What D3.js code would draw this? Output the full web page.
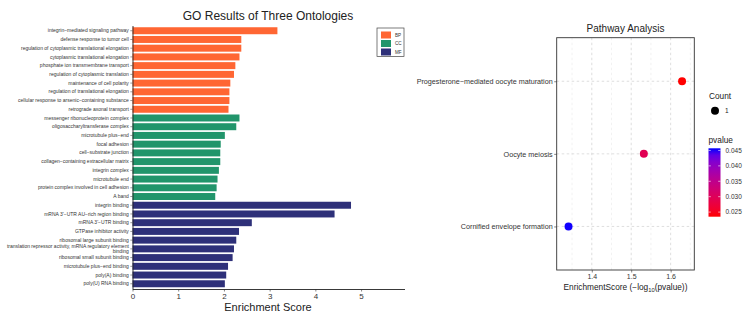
<!DOCTYPE html>
<html>
<head>
<meta charset="utf-8">
<script src="https://cdn.jsdelivr.net/npm/d3@7"></script>
<style>
  body { margin: 0; background: #fff; }
  svg { font-family: "Liberation Sans", Arial, sans-serif; display: block; }
</style>
</head>
<body>
<svg id="chart" width="749" height="315"></svg>
<script>
// ---- GO enrichment data (top to bottom) ----
const goTerms = [
  "integrin−mediated signaling pathway",
  "defense response to tumor cell",
  "regulation of cytoplasmic translational elongation",
  "cytoplasmic translational elongation",
  "phosphate ion transmembrane transport",
  "regulation of cytoplasmic translation",
  "maintenance of cell polarity",
  "regulation of translational elongation",
  "cellular response to arsenic−containing substance",
  "retrograde axonal transport",
  "messenger ribonucleoprotein complex",
  "oligosaccharyltransferase complex",
  "microtubule plus−end",
  "focal adhesion",
  "cell−substrate junction",
  "collagen−containing extracellular matrix",
  "integrin complex",
  "microtubule end",
  "protein complex involved in cell adhesion",
  "A band",
  "integrin binding",
  "mRNA 3'−UTR AU−rich region binding",
  "mRNA 3'−UTR binding",
  "GTPase inhibitor activity",
  "ribosomal large subunit binding",
  "translation repressor activity, mRNA regulatory element binding",
  "ribosomal small subunit binding",
  "microtubule plus−end binding",
  "poly(A) binding",
  "poly(U) RNA binding"
];
const goScores = [
  3.17, 2.38, 2.38, 2.34, 2.25, 2.22, 2.14, 2.12, 2.12, 2.10,
  2.34, 2.27, 2.02, 1.93, 1.92, 1.92, 1.89, 1.86, 1.84, 1.81,
  4.78, 4.42, 2.61, 2.33, 2.27, 2.22, 2.19, 2.09, 2.05, 2.02
];
const goOntology = [
  "BP","BP","BP","BP","BP","BP","BP","BP","BP","BP",
  "CC","CC","CC","CC","CC","CC","CC","CC","CC","CC",
  "MF","MF","MF","MF","MF","MF","MF","MF","MF","MF"
];
const ontologyNames = ["BP", "CC", "MF"];
const ontologyColors = ["#ff6633", "#21956b", "#2e3079"];
const goTicks = [0, 1, 2, 3, 4, 5];

// ---- KEGG pathway data ----
const pathways = [
  "Progesterone−mediated oocyte maturation",
  "Oocyte meiosis",
  "Cornified envelope formation"
];
const pathwayScores = [1.629, 1.532, 1.341];
const pathwayPvalues = [0.0235, 0.0294, 0.0456];
const pathwayCounts = [1, 1, 1];
const pathwayTicks = [1.4, 1.5, 1.6];
const pvalueTicks = [0.025, 0.030, 0.035, 0.040, 0.045];

const svg = d3.select("#chart");

// =========================
// Left: GO bar chart
// =========================
const x = d3.scaleLinear().domain([0, 5.95]).range([132.5, 404.5]);
const y = d3.scaleBand().domain(goTerms).range([25.5, 289]).padding(0.2);
const colorOnt = d3.scaleOrdinal().domain(ontologyNames).range(ontologyColors);

const bars = svg.append("g");
bars.selectAll("rect")
  .data(goTerms)
  .enter()
  .append("rect")
  .attr("x", x(0))
  .attr("y", d => y(d))
  .attr("width", (d, i) => x(goScores[i]) - x(0))
  .attr("height", y.bandwidth())
  .attr("fill", (d, i) => colorOnt(goOntology[i]));

// y axis
const yAxis = svg.append("g")
  .attr("transform", `translate(${x(0)},0)`)
  .call(d3.axisLeft(y).tickSize(2.2).tickPadding(1.5).tickSizeOuter(0));
yAxis.select(".domain").attr("stroke", "#222").attr("stroke-width", 0.9);
yAxis.selectAll(".tick line").attr("stroke", "#333").attr("stroke-width", 0.5);
yAxis.selectAll(".tick text")
  .attr("fill", "#333")
  .style("font-size", "5px")
  .each(function (d) {
    // wrap long labels the way str_wrap would
    const words = d.split(" ");
    const lines = [];
    let cur = "";
    words.forEach(w => {
      if ((cur + " " + w).trim().length > 56) { lines.push(cur); cur = w; }
      else cur = (cur + " " + w).trim();
    });
    lines.push(cur);
    if (lines.length > 1) {
      const t = d3.select(this).text(null).attr("dy", null);
      const lh = 5.6;
      lines.forEach((l, k) => {
        t.append("tspan")
          .attr("x", t.attr("x"))
          .attr("y", (k - (lines.length - 1) / 2) * lh)
          .attr("dy", "0.32em")
          .text(l);
      });
    }
  });

// x axis
const xAxis = svg.append("g")
  .attr("transform", "translate(0,289)")
  .call(d3.axisBottom(x).tickValues(goTicks).tickFormat(d3.format("d")).tickSize(2.5).tickPadding(1.5).tickSizeOuter(0));
xAxis.select(".domain").attr("stroke", "#222").attr("stroke-width", 0.9);
xAxis.selectAll(".tick line").attr("stroke", "#333").attr("stroke-width", 0.6);
xAxis.selectAll(".tick text").attr("fill", "#333").style("font-size", "8px");

svg.append("text")
  .attr("x", 268).attr("y", 311)
  .attr("text-anchor", "middle")
  .style("font-size", "11px")
  .attr("fill", "#222")
  .text("Enrichment Score");

svg.append("text")
  .attr("x", 268).attr("y", 20)
  .attr("text-anchor", "middle")
  .style("font-size", "12px")
  .attr("fill", "#222")
  .text("GO Results of Three Ontologies");

// legend
const leg = svg.append("g").attr("transform", "translate(377,28)");
leg.append("rect")
  .attr("width", 27).attr("height", 28.5)
  .attr("fill", "#fff").attr("stroke", "#444").attr("stroke-width", 0.7);
const legItem = leg.selectAll("g.item")
  .data(ontologyNames)
  .enter()
  .append("g")
  .attr("class", "item")
  .attr("transform", (d, i) => `translate(4,${3.5 + i * 8.5})`);
legItem.append("rect")
  .attr("width", 10).attr("height", 7)
  .attr("fill", d => colorOnt(d));
legItem.append("text")
  .attr("x", 14).attr("y", 3.6)
  .attr("dy", "0.35em")
  .style("font-size", "4.6px")
  .attr("fill", "#333")
  .text(d => d);

// =========================
// Right: pathway bubble chart
// =========================
const px0 = 556.7, px1 = 694.3, py0 = 37.7, py1 = 270;
const xr = d3.scaleLinear().domain([1.311, 1.66]).range([px0, px1]);
const yr = d3.scalePoint().domain(pathways).range([py0, py1]).padding(0.6);
const pMin = 0.0235, pMax = 0.0457;
const colorP = d3.scaleLinear().domain([pMin, pMax]).range(["#ff0000", "#0000ff"]).interpolate(d3.interpolateLab);

const grid = svg.append("g");
grid.selectAll("line.minor")
  .data([1.35, 1.45, 1.55, 1.65])
  .enter()
  .append("line")
  .attr("x1", d => xr(d)).attr("x2", d => xr(d))
  .attr("y1", py0).attr("y2", py1)
  .attr("stroke", "#e4e4e4").attr("stroke-width", 0.5)
  .attr("stroke-dasharray", "2.5,2.5");
grid.selectAll("line.vmajor")
  .data(pathwayTicks)
  .enter()
  .append("line")
  .attr("x1", d => xr(d)).attr("x2", d => xr(d))
  .attr("y1", py0).attr("y2", py1)
  .attr("stroke", "#c8c8c8").attr("stroke-width", 0.6)
  .attr("stroke-dasharray", "2.5,2.5");
grid.selectAll("line.hmajor")
  .data(pathways)
  .enter()
  .append("line")
  .attr("x1", px0).attr("x2", px1)
  .attr("y1", d => yr(d)).attr("y2", d => yr(d))
  .attr("stroke", "#c8c8c8").attr("stroke-width", 0.6)
  .attr("stroke-dasharray", "2.5,2.5");

svg.append("g").selectAll("circle")
  .data(pathways)
  .enter()
  .append("circle")
  .attr("cx", (d, i) => xr(pathwayScores[i]))
  .attr("cy", d => yr(d))
  .attr("r", (d, i) => 4 * Math.sqrt(pathwayCounts[i]))
  .attr("fill", (d, i) => colorP(pathwayPvalues[i]));

svg.append("rect")
  .attr("x", px0).attr("y", py0)
  .attr("width", px1 - px0).attr("height", py1 - py0)
  .attr("fill", "none").attr("stroke", "#333").attr("stroke-width", 0.9);

const yrAxis = svg.append("g")
  .attr("transform", `translate(${px0},0)`)
  .call(d3.axisLeft(yr).tickSize(2.5).tickPadding(1.5));
yrAxis.select(".domain").remove();
yrAxis.selectAll(".tick line").attr("stroke", "#333").attr("stroke-width", 0.6);
yrAxis.selectAll(".tick text").attr("fill", "#333").style("font-size", "7.2px");

const xrAxis = svg.append("g")
  .attr("transform", `translate(0,${py1})`)
  .call(d3.axisBottom(xr).tickValues(pathwayTicks).tickFormat(d3.format(".1f")).tickSize(2.5).tickPadding(1.5));
xrAxis.select(".domain").remove();
xrAxis.selectAll(".tick line").attr("stroke", "#333").attr("stroke-width", 0.6);
xrAxis.selectAll(".tick text").attr("fill", "#333").style("font-size", "7px");

svg.append("text")
  .attr("x", (px0 + px1) / 2).attr("y", 32)
  .attr("text-anchor", "middle")
  .style("font-size", "10px")
  .attr("fill", "#222")
  .text("Pathway Analysis");

const xrTitle = svg.append("text")
  .attr("x", (px0 + px1) / 2).attr("y", 290)
  .attr("text-anchor", "middle")
  .style("font-size", "8.3px")
  .attr("fill", "#222");
xrTitle.append("tspan").text("EnrichmentScore (−log");
xrTitle.append("tspan").attr("dy", 1.8).style("font-size", "5.8px").text("10");
xrTitle.append("tspan").attr("dy", -1.8).text("(pvalue))");

// Count legend
svg.append("text")
  .attr("x", 709).attr("y", 99)
  .style("font-size", "8.3px").attr("fill", "#222")
  .text("Count");
svg.append("circle")
  .attr("cx", 715).attr("cy", 110.7).attr("r", 4)
  .attr("fill", "#000");
svg.append("text")
  .attr("x", 725).attr("y", 110.7).attr("dy", "0.35em")
  .style("font-size", "6.5px").attr("fill", "#222")
  .text(d3.max(pathwayCounts));

// pvalue colour bar
svg.append("text")
  .attr("x", 708.5).attr("y", 143)
  .style("font-size", "8.3px").attr("fill", "#222")
  .text("pvalue");

const cbScale = d3.scaleLinear().domain([pMin, pMax]).range([216.7, 148.3]);
const defs = svg.append("defs");
const grad = defs.append("linearGradient")
  .attr("id", "pgrad")
  .attr("x1", 0).attr("x2", 0).attr("y1", 1).attr("y2", 0);
d3.range(0, 1.0001, 0.1).forEach(t => {
  grad.append("stop")
    .attr("offset", t)
    .attr("stop-color", colorP(pMin + t * (pMax - pMin)));
});
const cbX = 708.5, cbW = 12;
svg.append("rect")
  .attr("x", cbX).attr("y", cbScale(pMax))
  .attr("width", cbW).attr("height", cbScale(pMin) - cbScale(pMax))
  .attr("fill", "url(#pgrad)");
const cbTicks = svg.append("g");
cbTicks.selectAll("line.l")
  .data(pvalueTicks)
  .enter()
  .append("line")
  .attr("x1", cbX).attr("x2", cbX + 2.3)
  .attr("y1", d => cbScale(d)).attr("y2", d => cbScale(d))
  .attr("stroke", "#fff").attr("stroke-width", 0.6);
cbTicks.selectAll("line.r")
  .data(pvalueTicks)
  .enter()
  .append("line")
  .attr("x1", cbX + cbW - 2.3).attr("x2", cbX + cbW)
  .attr("y1", d => cbScale(d)).attr("y2", d => cbScale(d))
  .attr("stroke", "#fff").attr("stroke-width", 0.6);
cbTicks.selectAll("text")
  .data(pvalueTicks)
  .enter()
  .append("text")
  .attr("x", 725.5).attr("y", d => cbScale(d)).attr("dy", "0.35em")
  .style("font-size", "6.5px").attr("fill", "#333")
  .text(d => d3.format(".3f")(d));
</script>
</body>
</html>
